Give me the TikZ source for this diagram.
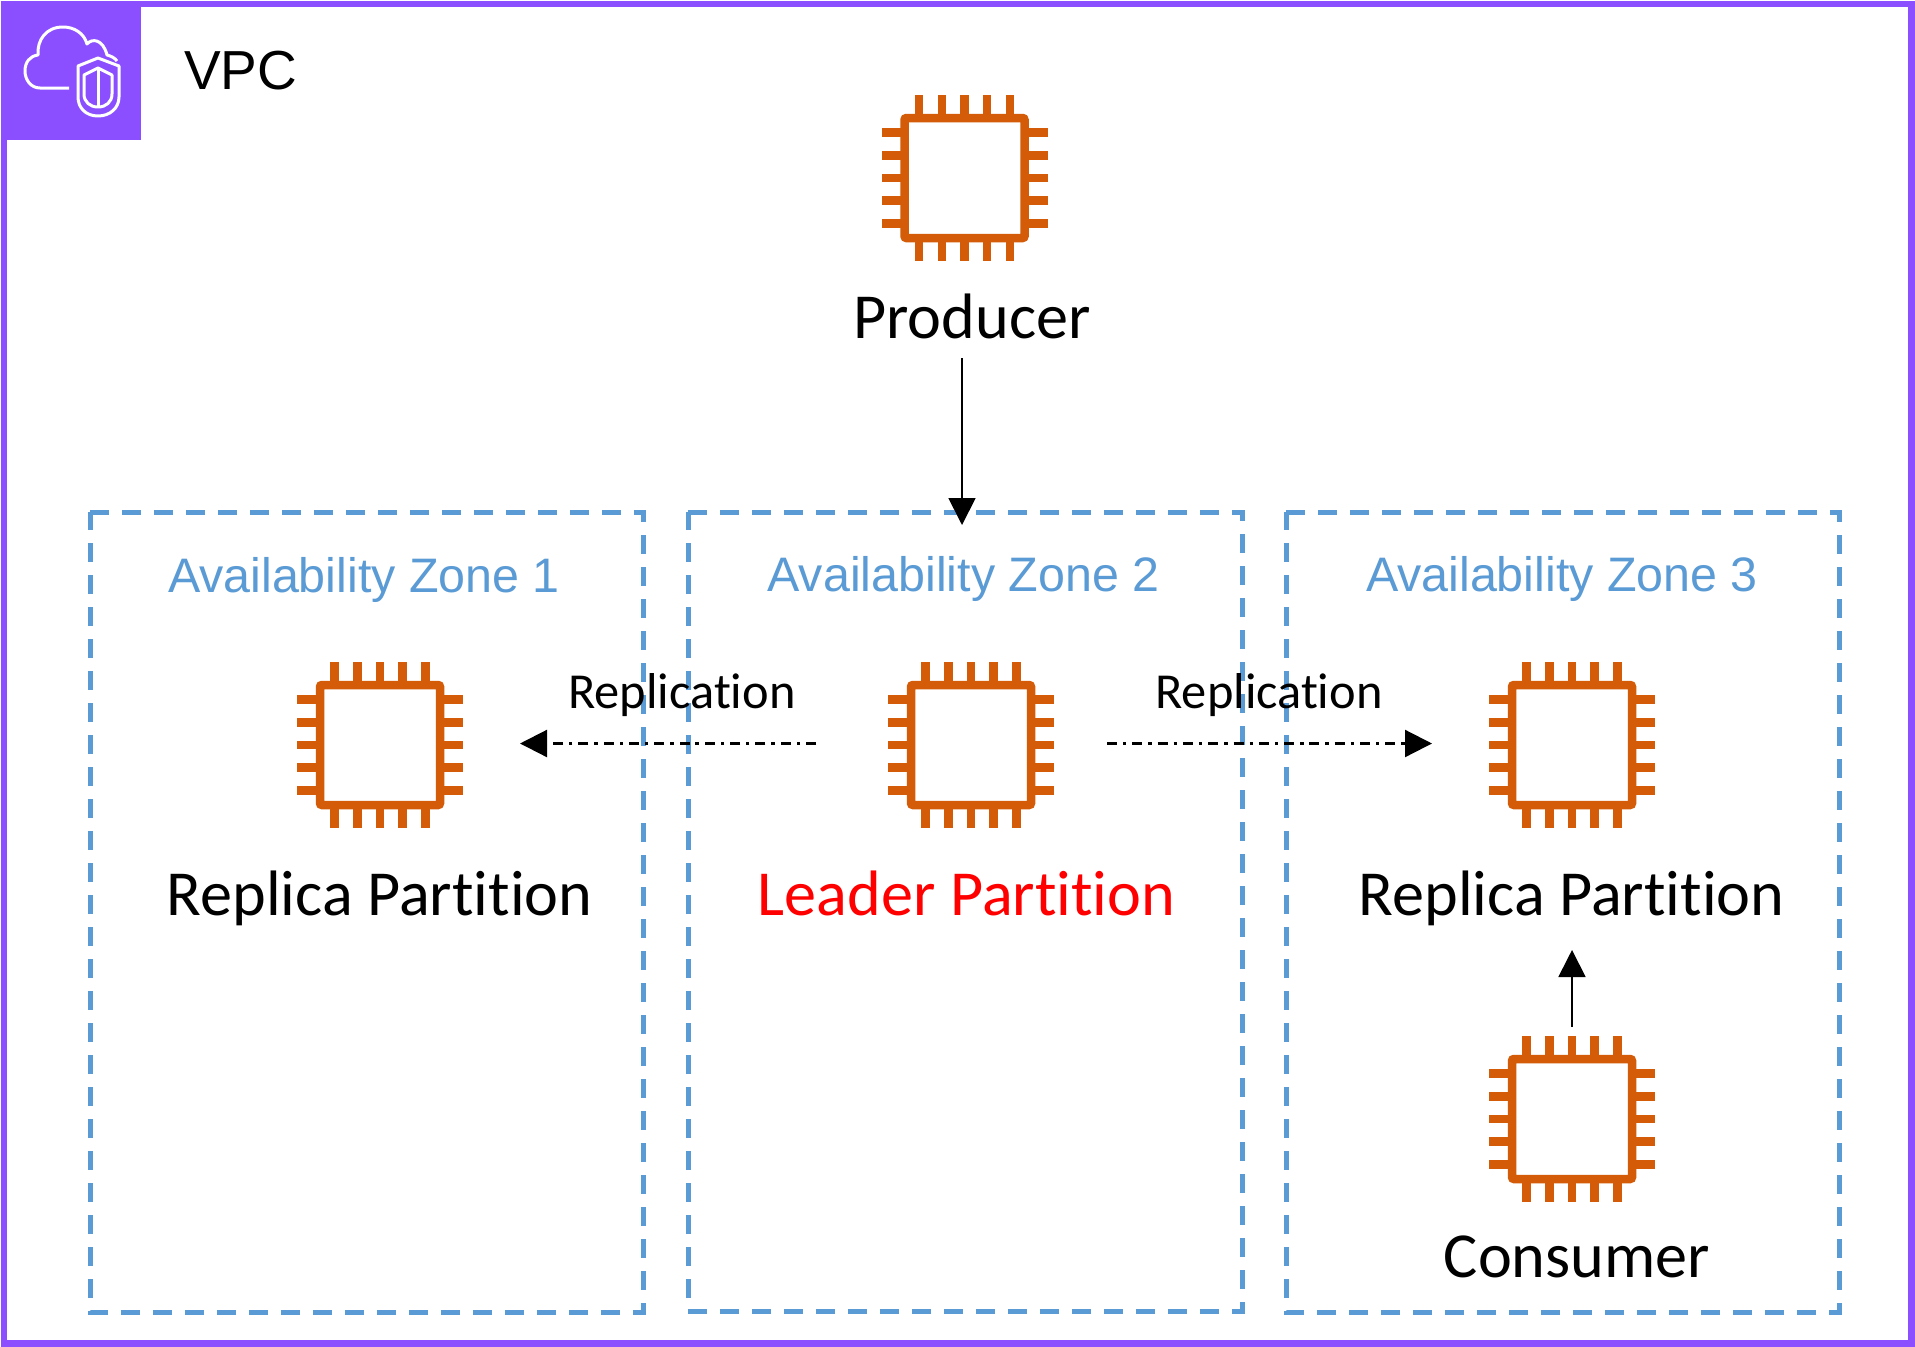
\documentclass[tikz,border=0pt]{standalone}
\usepackage{fontspec}
\setmainfont{Liberation Sans}
\newfontfamily\carl[Ligatures=NoCommon]{Carlito}
\usetikzlibrary{arrows.meta,calc}
\definecolor{vpcp}{HTML}{8C4FFF}
\definecolor{chipo}{HTML}{D45B07}
\definecolor{zoneb}{HTML}{5B9BD5}
\tikzset{
  x=1pt,y=-1pt,
  zonebox/.style={draw=zoneb,line width=5pt,dash pattern=on 18.7pt off 13.3pt,fill=none},
  chipbody/.style={draw=chipo,line width=8.5pt,rounded corners=2pt,minimum size=120pt,inner sep=0pt,outer sep=0pt,fill=white},
  pin/.style={draw=chipo,line width=8.5pt},
  lbl/.style={anchor=base,inner sep=0pt,font=\carl\fontsize{64.2}{66}\selectfont},
  replbl/.style={anchor=base,inner sep=0pt,font=\carl\fontsize{50.4}{54}\selectfont},
  azlbl/.style={anchor=base,inner sep=0pt,text=zoneb,font=\fontsize{48.4}{52}\selectfont},
  arrow/.style={draw=black,line width=1.8pt,-{Triangle[length=27pt,width=27pt]}},
  reparrow/.style={arrow,line width=2.2pt,dash pattern=on 10pt off 6pt on 3.4pt off 5.9pt},
  iconline/.style={draw=white,line width=3pt},
}
\newcommand{\chipnode}[3]{%
  \foreach \o in {-45.3,-22.65,0,22.65,45.3}{
    \draw[pin] ($(#2,#3)+(\o,-60)$) -- ($(#2,#3)+(\o,-83)$);
    \draw[pin] ($(#2,#3)+(\o,60)$) -- ($(#2,#3)+(\o,83)$);
    \draw[pin] ($(#2,#3)+(-60,\o)$) -- ($(#2,#3)+(-83,\o)$);
    \draw[pin] ($(#2,#3)+(60,\o)$) -- ($(#2,#3)+(83,\o)$);
  }
  \node[chipbody] (#1) at (#2,#3) {};
}
\begin{document}
\begin{tikzpicture}
\useasboundingbox (0,0) rectangle (1915,1347);
\fill[white] (0,0) rectangle (1915,1347);
% VPC frame
\draw[vpcp,line width=6.5pt] (4,4) rectangle (1911.5,1343.5);
\fill[vpcp] (1,1) rectangle (141,140);
% VPC icon
\draw[iconline,line join=round] (69,88) -- (40,88)
  .. controls (31,88) and (25,80) .. (25,71)
  .. controls (25,62) and (30,56) .. (38,55)
  .. controls (37,40) and (46,27) .. (63,27)
  .. controls (74,27) and (84,33) .. (87,44)
  .. controls (92,38) and (103,39) .. (107,55)
  .. controls (111,56) and (115,58) .. (117,61);
\draw[iconline,line join=round] (98,58) -- (78,66) -- (78,97)
  .. controls (78,108) and (86,116) .. (98,116)
  .. controls (110,116) and (119,108) .. (119,97) -- (119,66) -- cycle;
\draw[iconline,line join=round] (98,68) -- (84,75) -- (84,94)
  .. controls (84,102) and (90,107) .. (98,107)
  .. controls (106,107) and (112,102) .. (112,94) -- (112,75) -- cycle;
\draw[iconline] (98,68) -- (98,107);
\node[anchor=base west,inner sep=0pt,font=\fontsize{55}{60}\selectfont] (vpc) at (184,89) {VPC};
% zones
\draw[zonebox] (90,512) -- (643,512) -- (643,1312) -- (90,1312) -- cycle;
\draw[zonebox] (688,512) -- (1242,512) -- (1242,1311) -- (688,1311) -- cycle;
\draw[zonebox] (1286,512) -- (1839,512) -- (1839,1312) -- (1286,1312) -- cycle;
\node[azlbl] (az1) at (364,592) {Availability Zone 1};
\node[azlbl] (az2) at (963.5,591) {Availability Zone 2};
\node[azlbl] (az3) at (1562,591) {Availability Zone 3};
% chips
\chipnode{prod}{964.5}{178}
\chipnode{rep1}{380}{745}
\chipnode{lead}{971}{745}
\chipnode{rep3}{1572}{745}
\chipnode{cons}{1572}{1119}
% labels
\node[lbl] (tprod) at (972,338) {Producer};
\node[lbl] (trep1) at (379.5,915) {Replica Partition};
\node[lbl,text={rgb,255:red,255;green,0;blue,0}] (tlead) at (966.5,915) {Leader Partition};
\node[lbl] (trep3) at (1571.5,915) {Replica Partition};
\node[lbl] (tcons) at (1577,1277) {Consumer};
\node[replbl] (r1) at (682,708) {Replication};
\node[replbl] (r2) at (1269,708) {Replication};
% connector ends
\coordinate (pa) at (962,358);
\coordinate (pb) at (962,525);
\coordinate (la) at (816,743.5);
\coordinate (lb) at (520,743.5);
\coordinate (ra) at (1107,743.5);
\coordinate (rb) at (1432,743.5);
\coordinate (ca) at (1572,1027);
\coordinate (cb) at (1572,950);
\draw[arrow] (pa) -- (pb);
\draw[reparrow] (la) -- (lb);
\draw[reparrow] (ra) -- (rb);
\draw[arrow] (ca) -- (cb);
\end{tikzpicture}
\end{document}
